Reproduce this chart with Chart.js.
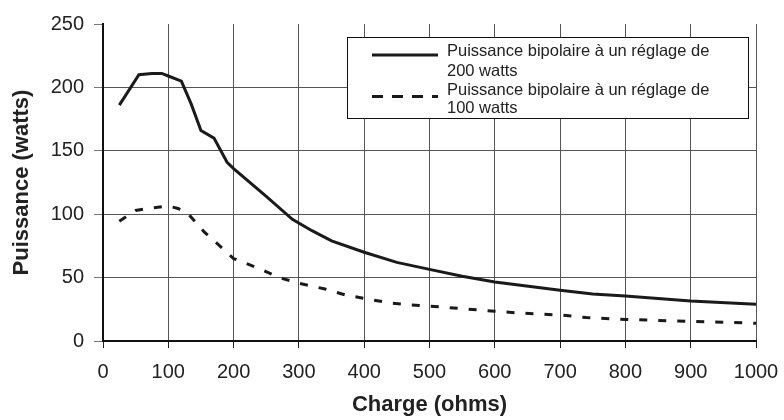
<!DOCTYPE html>
<html>
<head>
<meta charset="utf-8">
<script src="https://cdn.jsdelivr.net/npm/chart.js@4"></script>
<style>
  html, body { margin: 0; padding: 0; background: #fff; }
  #wrap { width: 784px; height: 420px; }
</style>
</head>
<body>
<div id="wrap"><canvas id="powerChart" width="784" height="420"></canvas></div>
<script>
// values
var load200 = [25, 55, 75, 90, 100, 120, 135, 150, 170, 190, 200, 250, 290, 320, 350, 400, 450, 500, 550, 600, 700, 750, 800, 900, 1000];
var power200 = [186, 210, 211, 211, 209, 205, 187, 166, 160, 141, 136, 114, 96, 87, 79, 70, 62, 56.5, 51, 46.5, 40, 37, 35.5, 31.5, 29];
var load100 = [25, 50, 75, 100, 115, 130, 155, 180, 200, 240, 270, 300, 340, 370, 400, 440, 470, 500, 600, 640, 700, 740, 800, 900, 1000];
var power100 = [94.5, 103, 105, 106.5, 104.5, 100.5, 86, 74.5, 65, 57, 50, 45.5, 41, 36.5, 33.5, 30, 28.5, 27.5, 23.5, 22, 20.5, 18.5, 17, 15.5, 14];
var legendLines = [
    ['Puissance bipolaire à un réglage de', '200 watts'],
    ['Puissance bipolaire à un réglage de', '100 watts']
];
var xTitle = 'Charge (ohms)';
var yTitle = 'Puissance (watts)';

function toPoints(xs, ys) {
    var pts = [];
    for (var i = 0; i < xs.length; i++) pts.push({ x: xs[i], y: ys[i] });
    return pts;
}

var FONT = "'Liberation Sans', Arial, sans-serif";

var boxLegend = {
    id: 'boxLegend',
    afterDraw: function (chart) {
        var ctx = chart.ctx;
        ctx.save();
        ctx.fillStyle = '#fff';
        ctx.fillRect(347, 37, 401, 81);
        ctx.strokeStyle = '#111';
        ctx.lineWidth = 1;
        ctx.strokeRect(347.5, 37.5, 401, 81);

        ctx.strokeStyle = '#1a1a1a';
        ctx.lineWidth = 3;
        ctx.beginPath();
        ctx.moveTo(372, 55);
        ctx.lineTo(438, 55);
        ctx.stroke();
        ctx.setLineDash([11, 9]);
        ctx.beginPath();
        ctx.moveTo(372, 96.5);
        ctx.lineTo(438, 96.5);
        ctx.stroke();
        ctx.setLineDash([]);

        ctx.fillStyle = '#222';
        ctx.font = '16.5px ' + FONT;
        ctx.textBaseline = 'middle';
        ctx.textAlign = 'left';
        var ys = [[51.5, 71], [90, 108.5]];
        for (var i = 0; i < legendLines.length; i++) {
            for (var j = 0; j < legendLines[i].length; j++) {
                ctx.fillText(legendLines[i][j], 447, ys[i][j]);
            }
        }
        ctx.restore();
    }
};

var ctx = document.getElementById('powerChart').getContext('2d');
var powerChart = new Chart(ctx, {
    type: 'line',
    data: {
        datasets: [{
            label: legendLines[0].join(' '),
            data: toPoints(load200, power200),
            borderColor: '#1a1a1a',
            borderWidth: 3,
            pointRadius: 0,
            tension: 0,
            fill: false
        }, {
            label: legendLines[1].join(' '),
            data: toPoints(load100, power100),
            borderColor: '#1a1a1a',
            borderWidth: 3,
            borderDash: [8, 11],
            pointRadius: 0,
            tension: 0,
            fill: false
        }]
    },
    options: {
        responsive: false,
        animation: false,
        devicePixelRatio: 1,
        layout: { padding: { left: 0, right: 28, top: 24, bottom: 0 } },
        plugins: {
            legend: { display: false },
            tooltip: { enabled: false }
        },
        scales: {
            x: {
                type: 'linear',
                position: 'bottom',
                min: 0,
                max: 1000,
                ticks: {
                    stepSize: 100,
                    color: '#222',
                    padding: 12,
                    maxRotation: 0,
                    font: { family: FONT, size: 20 },
                    callback: function (v) { return String(v); }
                },
                grid: {
                    color: '#555',
                    lineWidth: 1,
                    tickLength: 7,
                    tickColor: '#222'
                },
                border: { color: '#111', width: 2 },
                title: {
                    display: true,
                    text: xTitle,
                    color: '#222',
                    font: { family: FONT, size: 22, weight: 'bold' },
                    padding: { top: 0, bottom: 2 }
                },
                afterFit: function (scale) {
                    scale.height = 79;
                    scale.paddingLeft = 0;
                    scale.paddingRight = 0;
                }
            },
            y: {
                min: 0,
                max: 250,
                ticks: {
                    stepSize: 50,
                    color: '#222',
                    padding: 10,
                    font: { family: FONT, size: 20 },
                    callback: function (v) { return String(v); }
                },
                grid: {
                    color: function (c) { return c.tick && c.tick.value === 250 ? 'rgba(0,0,0,0)' : '#555'; },
                    lineWidth: 1,
                    tickLength: 9,
                    tickColor: '#777'
                },
                border: { color: '#111', width: 2 },
                title: {
                    display: true,
                    text: yTitle,
                    color: '#222',
                    font: { family: FONT, size: 22, weight: 'bold' },
                    padding: { top: 9, bottom: 0 }
                },
                afterFit: function (scale) { scale.width = 103; }
            }
        }
    },
    plugins: [boxLegend]
});
</script>
</body>
</html>
